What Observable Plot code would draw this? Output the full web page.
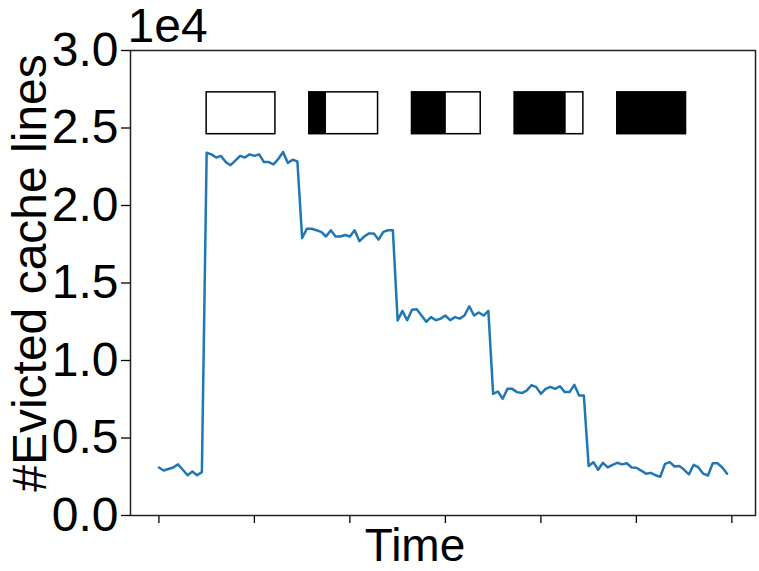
<!DOCTYPE html>
<html>
<head>
<meta charset="utf-8">
<script src="https://cdn.jsdelivr.net/npm/d3@7"></script>
<script src="https://cdn.jsdelivr.net/npm/@observablehq/plot@0.6"></script>
<style>
  html, body { margin: 0; padding: 0; background: white; }
</style>
</head>
<body>
<div id="chart"></div>
<script>
// Evicted cache lines per time step (raw counts)
const evicted = [
  3100, 2900, 3000, 3100, 3300, 2950, 2600, 2840, 2600, 2800,
  23400, 23300, 23100, 23200, 22800, 22600, 22900, 23200, 23100, 23300,
  23200, 23300, 22800, 22800, 22650, 23000, 23450, 22750, 22950, 22850,
  17900, 18500, 18500, 18400, 18300, 18000, 18400, 18000, 18000, 18100,
  18000, 18400, 17700, 18000, 18200, 18200, 17800, 18300, 18400, 18400,
  12580, 13200, 12600, 13270, 13300, 12900, 12500, 12800, 12600, 12700,
  12900, 12600, 12800, 12700, 12900, 13500, 12900, 13100, 12900, 13200,
  7850, 8000, 7530, 8170, 8170, 7960, 7900, 8060, 8400, 8300,
  7850, 8170, 8300, 8170, 8340, 7960, 7960, 8430, 7740, 7740,
  3200, 3440, 2950, 3400, 3100, 3270, 3400, 3300, 3370, 3100,
  3080, 2900, 2700, 2750, 2600, 2500, 3330, 3440, 3160, 3200,
  2950, 2650, 3270, 3100, 2700, 2580, 3370, 3370, 3100, 2700
];
const timeIdx = evicted.map((_, i) => i);

// Progress indicator boxes (time position, fill fraction)
const boxStart = [10, 31.5, 53, 74.5, 96];
const boxWidth = 14.4;
const boxFill = [0, 0.25, 0.5, 0.75, 1];
const boxLow = 24600, boxHigh = 27300;

const yTicks = [0, 5000, 10000, 15000, 20000, 25000, 30000];
const xTicks = [0, 20, 40, 60, 80, 100, 120];

const series = timeIdx.map(i => ({t: i, v: evicted[i]}));
const boxes = boxStart.map((s, k) => ({x1: s, x2: s + boxWidth, xf: s + boxWidth * boxFill[k], y1: boxLow, y2: boxHigh}));

const FS = 48;
const chart = Plot.plot({
  width: 759,
  height: 571,
  marginLeft: 130,
  marginRight: 4,
  marginTop: 50,
  marginBottom: 56,
  style: {fontFamily: "'Liberation Sans', Arial, Helvetica, sans-serif", fontSize: FS + "px", background: "white", color: "black"},
  x: {domain: [-5.95, 124.95]},
  y: {domain: [0, 30000]},
  marks: [
    Plot.axisY({ticks: yTicks, tickFormat: d => (d / 1e4).toFixed(1), tickSize: 9, tickPadding: 3, label: null, fontSize: FS, strokeWidth: 1.3}),
    Plot.axisX({ticks: xTicks, tickFormat: () => "", tickSize: 8, label: null, strokeWidth: 1.3}),
    Plot.line(series, {x: "t", y: "v", stroke: "#1f77b4", strokeWidth: 2.5}),
    Plot.rect(boxes, {x1: "x1", x2: "xf", y1: "y1", y2: "y2", fill: "black"}),
    Plot.rect(boxes, {x1: "x1", x2: "x2", y1: "y1", y2: "y2", fill: "none", stroke: "black", strokeWidth: 1.5}),
    Plot.frame({stroke: "#222", strokeWidth: 1.5}),
    Plot.text(["1e4"], {frameAnchor: "top-left", textAnchor: "start", lineAnchor: "top", dx: -3, dy: -43, fontSize: FS, fill: "black"}),
    Plot.text(["#Evicted cache lines"], {frameAnchor: "left", rotate: -90, textAnchor: "middle", lineAnchor: "middle", dx: -100, dy: -10, fontSize: FS, fill: "black"}),
    Plot.text(["Time"], {frameAnchor: "bottom", textAnchor: "middle", lineAnchor: "top", dx: -28, dy: 13, fontSize: 46, fill: "black"})
  ]
});
document.getElementById("chart").appendChild(chart);
</script>
</body>
</html>
